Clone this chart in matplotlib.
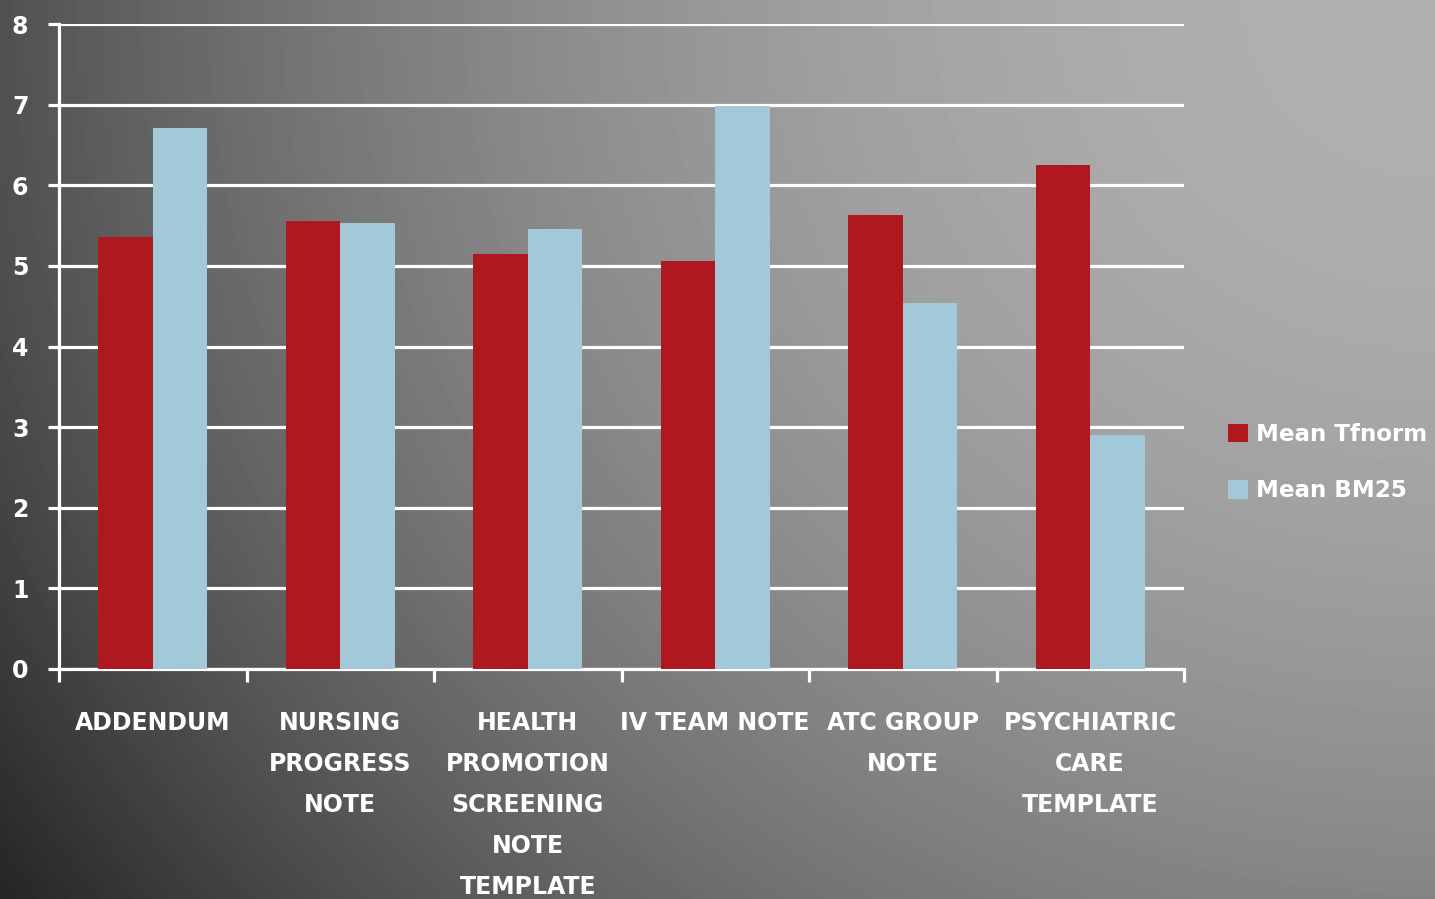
import numpy as np
import matplotlib
matplotlib.use('Agg')
import matplotlib.pyplot as plt

categories = ['ADDENDUM', 'NURSING\nPROGRESS\nNOTE', 'HEALTH\nPROMOTION\nSCREENING\nNOTE\nTEMPLATE',
              'IV TEAM NOTE', 'ATC GROUP\nNOTE', 'PSYCHIATRIC\nCARE\nTEMPLATE']
mean_tfnorm = [5.36, 5.56, 5.15, 5.06, 5.63, 6.25]
mean_bm25 = [6.71, 5.53, 5.46, 6.98, 4.54, 2.90]
yticks = [0, 1, 2, 3, 4, 5, 6, 7, 8]

W, H = 1435, 899
fig = plt.figure(figsize=(W / 100, H / 100), dpi=100)

# gradient background, light top-right, dark bottom-left
bg = fig.add_axes([0, 0, 1, 1], zorder=-10)
xx, yy = np.meshgrid(np.arange(W), np.arange(H))
r2 = ((xx - W) / float(W)) ** 2 + (yy / 1320.0) ** 2
v = np.clip(176 - 95 * r2, 38, 180) / 255.0
bg.imshow(v, cmap='gray', vmin=0, vmax=1, aspect='auto', extent=(0, W, H, 0))
bg.axis('off')

ax = fig.add_axes([59 / W, 1 - 669 / H, (1184 - 59) / W, (669 - 24) / H])
ax.set_facecolor('none')

x = np.arange(len(categories))
w = 0.29
ax.bar(x - w / 2, mean_tfnorm, w, color='#b01820', label='Mean Tfnorm', zorder=3)
ax.bar(x + w / 2, mean_bm25, w, color='#a3c8d8', label='Mean BM25', zorder=3)

ax.set_xlim(-0.5, len(categories) - 0.5)
ax.set_ylim(0, 8)
ax.set_yticks(yticks)
ax.yaxis.grid(True, color='white', linewidth=2.3, zorder=1)
ax.set_axisbelow(True)

for s in ['top', 'right']:
    ax.spines[s].set_visible(False)
for s in ['left', 'bottom']:
    ax.spines[s].set_color('white')
    ax.spines[s].set_linewidth(2.3)

ax.set_xticks(np.arange(len(categories) + 1) - 0.5, minor=True)
ax.set_xticks(x)
ax.set_xticklabels(categories, color='white', fontsize=17, fontweight='bold', linespacing=1.9)
ax.tick_params(axis='x', which='major', length=0, pad=30)
ax.tick_params(axis='x', which='minor', length=9, width=2.3, color='white')
ax.tick_params(axis='y', length=8, width=2.3, color='white', labelcolor='white',
               labelsize=17, pad=14)
for lbl in ax.get_yticklabels():
    lbl.set_fontweight('bold')
for lbl in ax.get_xticklabels():
    lbl.set_verticalalignment('top')

leg = ax.legend(loc='center left', bbox_to_anchor=(1.021, 0.32), frameon=False,
                handlelength=0.85, handleheight=0.85, handletextpad=0.35, labelspacing=1.45,
                prop={'size': 16.6, 'weight': 'bold'})
for t in leg.get_texts():
    t.set_color('white')

fig.savefig('out.png', dpi=100)
